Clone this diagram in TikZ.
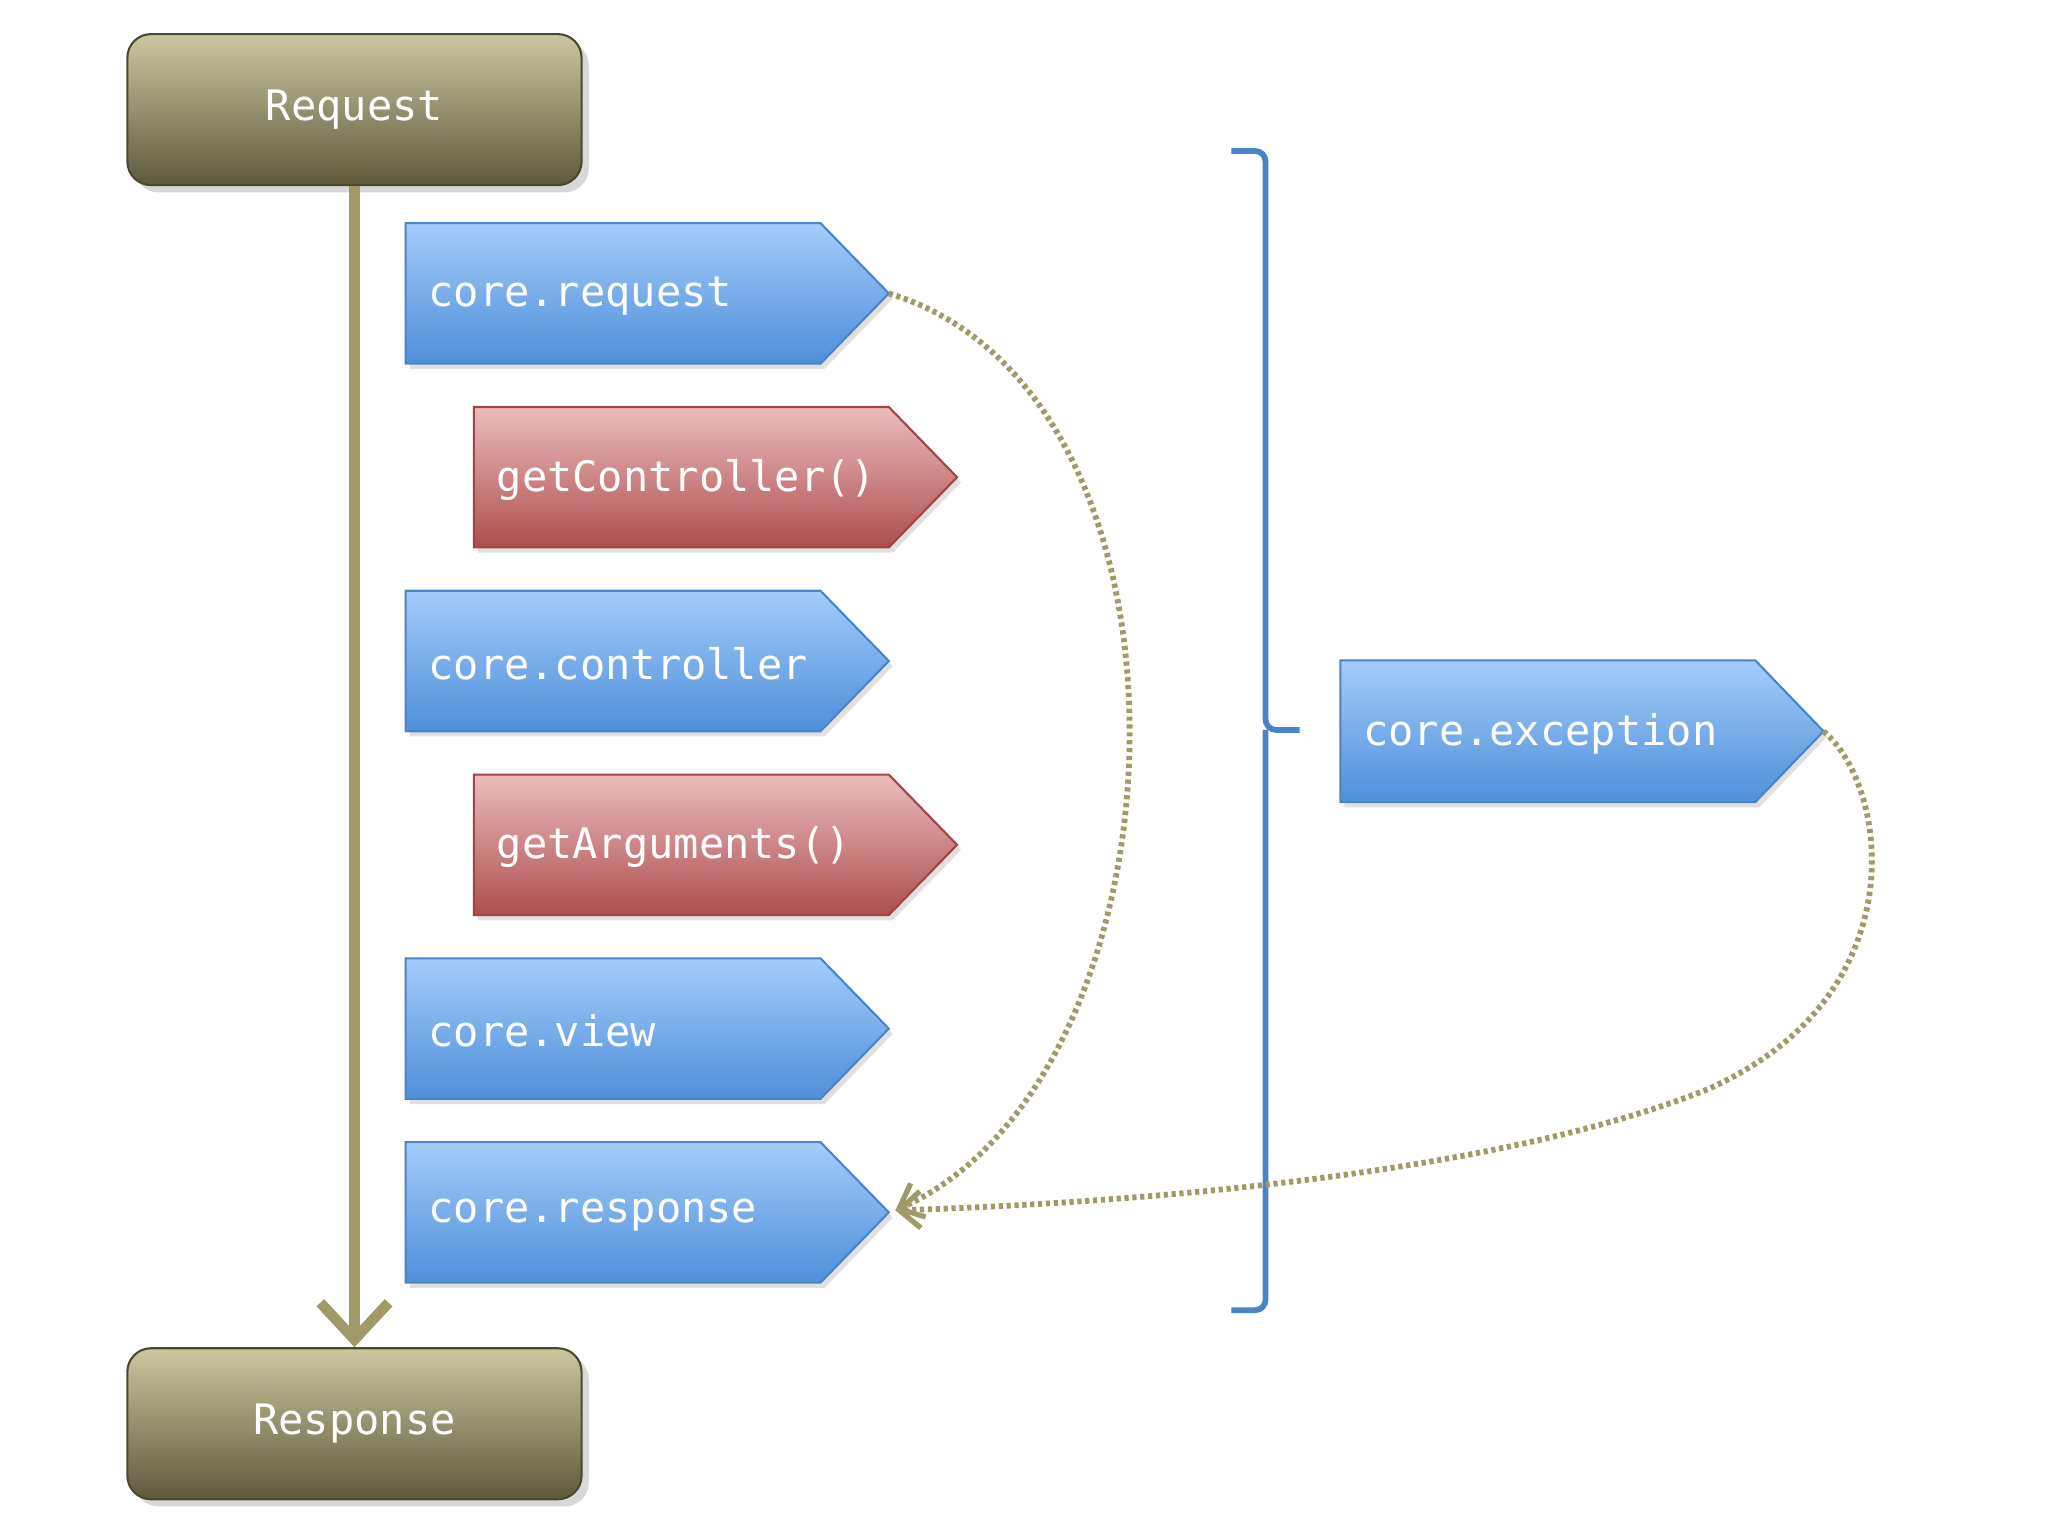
\documentclass[tikz,border=0pt]{standalone}
\usepackage{fontspec}
\setmainfont{DejaVu Sans Mono}
\usetikzlibrary{arrows.meta,shadows}
\definecolor{olv}{HTML}{A09A68}
\definecolor{olvtop}{HTML}{CBC7A0}
\definecolor{olvbot}{HTML}{5E5A3C}
\definecolor{btop}{HTML}{A4CCFA}
\definecolor{bbot}{HTML}{4F8FD9}
\definecolor{bline}{HTML}{4A84C8}
\definecolor{rtop}{HTML}{EBBDBD}
\definecolor{rbot}{HTML}{AE4E4E}
\definecolor{rline}{HTML}{A04444}
\begin{document}
\begin{tikzpicture}[x=0.5pt,y=-0.5pt,
  lbl/.style={text=white,font=\fontsize{16}{18}\selectfont,inner sep=0},
  box/.style={rounded corners=9pt,top color=olvtop,bottom color=olvbot,draw=olvbot!80!black,line width=0.8,minimum width=173pt,minimum height=57.5pt,text=white,font=\fontsize{16}{18}\selectfont,drop shadow={opacity=.3}},
  dot/.style={olv,line width=2.2,dash pattern=on 1.6pt off 1.4pt}]
\useasboundingbox (0,0) rectangle (1560,1170);
\fill[white] (0,0) rectangle (1560,1170);
\node[box] (req) at (270,83.5) {Request};
\node[box] (resp) at (270,1084.5) {Response};
\draw[olv,line width=4pt,-{Straight Barb[length=14pt,width=26pt,line width=4pt]}] (req.south) -- (resp.north);
\newcommand\tg[8]{%
  \fill[black!30,opacity=.4] (#2+3,#3+4) -- (#2+319,#3+4) -- (#2+371,{(#3+#4)/2+4}) -- (#2+319,#4+4) -- (#2+3,#4+4) -- cycle;
  \draw[top color=#5,bottom color=#6,draw=#8,line width=0.8] (#2,#3) -- (#2+316,#3) -- (#2+368,{(#3+#4)/2}) -- (#2+316,#4) -- (#2,#4) -- cycle;
  \node[lbl,anchor=west] (#1) at (#2+17,{(#3+#4)/2+2}) {#7};
  \coordinate (#1-tip) at (#2+368,{(#3+#4)/2});}
\tg{creq}{309}{170}{277}{btop}{bbot}{core.request}{bline}
\tg{getc}{361}{310}{417}{rtop}{rbot}{getController()}{rline}
\tg{cctl}{309}{450}{557}{btop}{bbot}{core.controller}{bline}
\tg{geta}{361}{590}{697}{rtop}{rbot}{getArguments()}{rline}
\tg{cview}{309}{730}{837}{btop}{bbot}{core.view}{bline}
\tg{cresp}{309}{870}{977}{btop}{bbot}{core.response}{bline}
\tg{cexc}{1021}{503}{611}{btop}{bbot}{core.exception}{bline}
\draw[bline,line width=2.2pt,rounded corners=4pt] (938,115) -- (964,115) -- (964,556) -- (990,556);
\draw[bline,line width=2.2pt,rounded corners=4pt] (938,998) -- (964,998) -- (964,556);
\coordinate (rin) at (682,922);
\draw[dot,-{Straight Barb[length=8pt,width=14pt,line width=2pt]}] (creq-tip) .. controls (930,300) and (910,820) .. (rin);
\draw[dot,-{Straight Barb[length=8pt,width=14pt,line width=2pt]}] (cexc-tip) .. controls (1440,600) and (1460,760) .. (1300,830) .. controls (1150,890) and (900,915) .. (rin);
\end{tikzpicture}
\end{document}
